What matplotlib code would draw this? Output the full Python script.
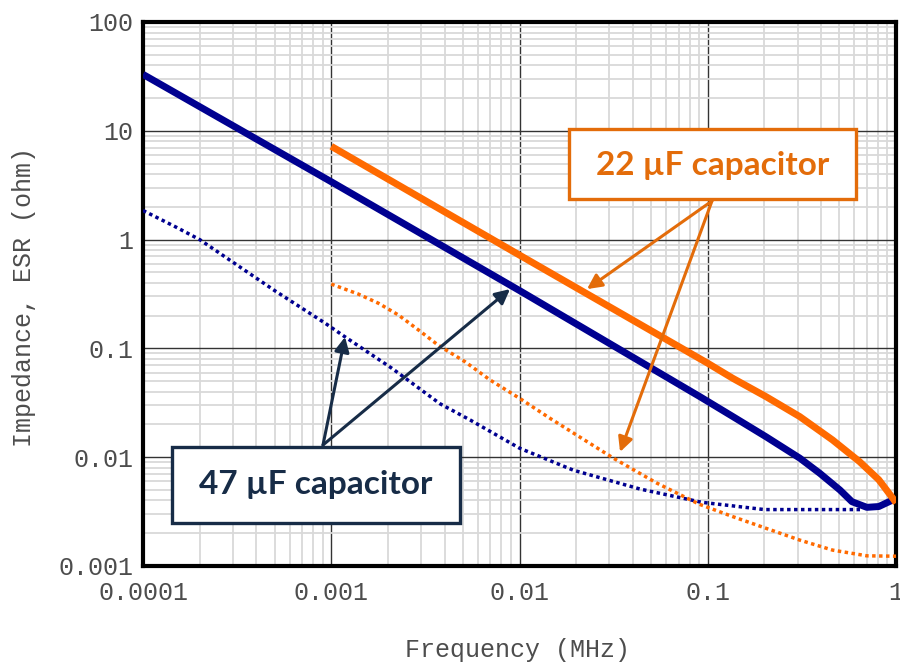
import numpy as np
import matplotlib
matplotlib.use("Agg")
import matplotlib.pyplot as plt
from matplotlib.patches import Rectangle

# valores (frecuencia en MHz, impedancia/ESR en ohm)
f_z47 = [0.0001, 0.001, 0.01, 0.0908, 0.136, 0.204, 0.308, 0.394, 0.503, 0.583, 0.70, 0.81, 0.96, 1.0]
z47 = [33, 3.4, 0.34, 0.036, 0.0236, 0.0154, 0.0098, 0.0071, 0.0050, 0.0039, 0.00346, 0.00352, 0.00404, 0.0042]

f_esr47 = [0.0001, 0.00015, 0.0002, 0.0003, 0.0005, 0.00093, 0.00118, 0.0021, 0.00378, 0.00546,
           0.01, 0.0193, 0.0436, 0.093, 0.2, 0.4, 0.67]
esr47 = [1.85, 1.3, 1.0, 0.62, 0.34, 0.17, 0.128, 0.0656, 0.031, 0.022,
         0.0121, 0.0076, 0.0051, 0.00385, 0.0033, 0.0033, 0.0033]

f_z22 = [0.001, 0.01, 0.1, 0.136, 0.204, 0.308, 0.46, 0.64, 0.81, 0.96, 1.0]
z22 = [7.2, 0.72, 0.073, 0.053, 0.036, 0.0236, 0.0144, 0.0091, 0.0062, 0.0042, 0.0038]

f_esr22 = [0.001, 0.00139, 0.00178, 0.00227, 0.0029, 0.0037, 0.00513, 0.00697, 0.01, 0.0145,
           0.0315, 0.0534, 0.09, 0.136, 0.204, 0.308, 0.46, 0.70, 1.0]
esr22 = [0.39, 0.316, 0.26, 0.203, 0.148, 0.107, 0.0755, 0.0513, 0.0348, 0.0228,
         0.0098, 0.0058, 0.0037, 0.00284, 0.00222, 0.00173, 0.0014, 0.00124, 0.00123]

xticks = [0.0001, 0.001, 0.01, 0.1, 1]
xlabels = ['0.0001', '0.001', '0.01', '0.1', '1']
yticks = [0.001, 0.01, 0.1, 1, 10, 100]
ylabels = ['0.001', '0.01', '0.1', '1', '10', '100']

navy = '#000090'
orange = '#ff6a00'
orange_dark = '#e36c0a'
dark = '#172c47'
gray_txt = '#4d4d4d'
mono = 'Liberation Mono'

fig = plt.figure(figsize=(9, 6.64), dpi=100)
ax = fig.add_axes([0.1589, 0.1476, 0.8367, 0.8193])
ax.set_xscale('log')
ax.set_yscale('log')
ax.set_xlim(0.0001, 1)
ax.set_ylim(0.001, 100)

ax.plot(f_z47, z47, color=navy, lw=5, solid_capstyle='butt', solid_joinstyle='round', zorder=4)
ax.plot(f_esr47, esr47, color=navy, lw=2.5, linestyle=(0, (1, 1)), zorder=3)
ax.plot(f_z22, z22, color=orange, lw=5, solid_capstyle='butt', solid_joinstyle='round', zorder=4)
ax.plot(f_esr22, esr22, color=orange, lw=2.5, linestyle=(0, (1, 1)), zorder=3)

# rejilla
ax.grid(which='minor', color='#d9d9d9', lw=1.3, zorder=0)
ax.grid(which='major', color='#333333', lw=1.0, zorder=1)
ax.set_axisbelow(True)

ax.set_xticks(xticks)
ax.set_xticklabels(xlabels)
ax.set_yticks(yticks)
ax.set_yticklabels(ylabels)
ax.tick_params(which='both', length=0)
ax.tick_params(axis='x', pad=11)
ax.tick_params(axis='y', pad=7)
for lab in ax.get_xticklabels() + ax.get_yticklabels():
    lab.set_fontfamily(mono)
    lab.set_fontsize(18)
    lab.set_color(gray_txt)

for s in ax.spines.values():
    s.set_linewidth(3)
    s.set_color('black')

ax.set_xlabel('Frequency (MHz)', fontfamily=mono, fontsize=18, color=gray_txt)
ax.set_ylabel('Impedance, ESR (ohm)', fontfamily=mono, fontsize=18, color=gray_txt)
ax.xaxis.set_label_coords(0.497, -0.132)
ax.yaxis.set_label_coords(-0.142, 0.494)

# cajas de texto
ax.add_patch(Rectangle((0.566, 0.675), 0.381, 0.128, transform=ax.transAxes,
                       fc='white', ec=orange_dark, lw=2.4, zorder=6, clip_on=False))
ax.text(0.756, 0.737, '22 µF capacitor', transform=ax.transAxes, ha='center', va='center',
        fontfamily='Lato', fontweight='bold', fontsize=24, color=orange_dark, zorder=7)

ax.add_patch(Rectangle((0.0385, 0.079), 0.3825, 0.140, transform=ax.transAxes,
                       fc='white', ec=dark, lw=2.4, zorder=6, clip_on=False))
ax.text(0.2297, 0.149, '47 µF capacitor', transform=ax.transAxes, ha='center', va='center',
        fontfamily='Lato', fontweight='bold', fontsize=24, color=dark, zorder=7)

# flechas
arrow22 = dict(arrowstyle='-|>', color=orange_dark, lw=2.2, mutation_scale=22,
               shrinkA=0, shrinkB=0)
arrow47 = dict(arrowstyle='-|>', color=dark, lw=2.2, mutation_scale=22,
               shrinkA=0, shrinkB=0)
for tip in [(0.5896, 0.509), (0.6335, 0.2096)]:
    ax.annotate('', xy=tip, xytext=(0.7556, 0.671), xycoords='axes fraction',
                textcoords='axes fraction', arrowprops=arrow22, zorder=5)
for tip in [(0.2683, 0.421), (0.4874, 0.509)]:
    ax.annotate('', xy=tip, xytext=(0.239, 0.2224), xycoords='axes fraction',
                textcoords='axes fraction', arrowprops=arrow47, zorder=5)

fig.savefig('out.png', dpi=100)
